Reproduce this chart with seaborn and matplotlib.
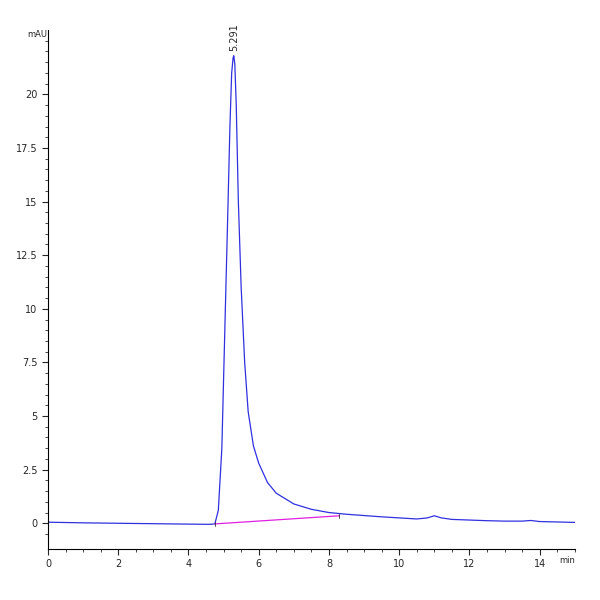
import numpy as np
import pandas as pd
import matplotlib
matplotlib.use("Agg")
import matplotlib.pyplot as plt
import seaborn as sns

# trace (min, mAU)
t_min = [0, 1, 2, 3, 4, 4.6, 4.75, 4.85, 4.95, 5.05, 5.12, 5.18, 5.23, 5.27, 5.29,
         5.32, 5.36, 5.42, 5.5, 5.6, 5.7, 5.85, 6.0, 6.25, 6.5, 7.0, 7.5, 8.0,
         8.5, 9.0, 9.5, 10.0, 10.5, 10.8, 11.0, 11.2, 11.5, 12.0, 12.5, 13.0,
         13.5, 13.75, 14.0, 14.5, 15.0]
mau = [0.05, 0.02, 0.0, -0.02, -0.04, -0.05, -0.03, 0.6, 3.5, 10.0, 14.5, 18.5, 21.0, 21.7, 21.8,
       21.4, 19.5, 15.0, 11.0, 7.5, 5.2, 3.6, 2.8, 1.9, 1.4, 0.9, 0.65, 0.5,
       0.42, 0.36, 0.3, 0.25, 0.2, 0.25, 0.35, 0.25, 0.18, 0.15, 0.12, 0.1,
       0.1, 0.13, 0.08, 0.06, 0.04]
base_t = [4.75, 8.3]
base_y = [-0.03, 0.35]
peak_rt = 5.291
peak_h = 21.8

df = pd.DataFrame({"t": t_min, "y": mau})
sns.set_style("white")
fig = plt.figure(figsize=(6, 6), dpi=100)
ax = fig.add_axes([0.08, 0.085, 0.878, 0.865])
sns.lineplot(data=df, x="t", y="y", ax=ax, color="#3030e0", linewidth=0.9)
ax.plot(base_t, base_y, color="#e020e0", linewidth=0.9)
for bt, by in zip(base_t, base_y):
    ax.plot([bt, bt], [by - 0.1, by + 0.1], color="#333333", linewidth=0.6)
ax.text(peak_rt, peak_h + 0.2, f"{peak_rt:.3f}", rotation=90, ha="center", va="bottom", fontsize=7)

ax.set_xlim(0, 15)
ax.set_ylim(-1.2, 23)
ax.set_xticks(np.arange(0, 15, 2))
ax.set_xticks(np.arange(0, 15.01, 0.5), minor=True)
ax.set_yticks(np.arange(0, 20.1, 2.5))
ax.set_yticklabels(["0", "2.5", "5", "7.5", "10", "12.5", "15", "17.5", "20"])
ax.set_yticks(np.arange(-0.5, 23, 0.5), minor=True)
ax.tick_params(labelsize=7, length=4, direction="out", bottom=True, left=True)
ax.tick_params(which="minor", length=2, bottom=True, left=True)
ax.set_xlabel("")
ax.set_ylabel("")
for s in ["top", "right"]:
    ax.spines[s].set_visible(False)
for s in ["left", "bottom"]:
    ax.spines[s].set_color("black")
    ax.spines[s].set_linewidth(0.8)
ax.text(-0.01, 23, "mAU", transform=ax.transData, ha="right", va="top", fontsize=6)
ax.text(15.0, -1.75, "min", ha="right", va="center", fontsize=6)
fig.savefig("out.png", dpi=100)
